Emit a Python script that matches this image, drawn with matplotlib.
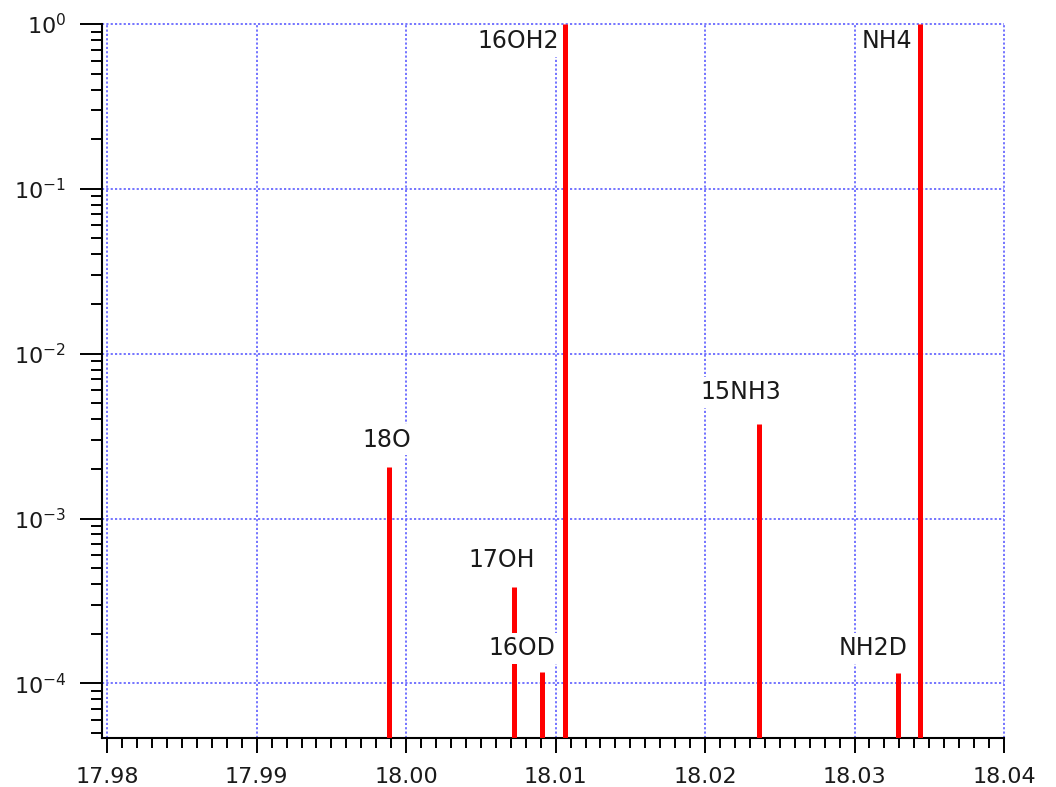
import matplotlib
matplotlib.use("Agg")
import matplotlib.pyplot as plt
from matplotlib.ticker import MultipleLocator, FormatStrFormatter, LogLocator, NullFormatter

plt.rcParams['font.family'] = ['DejaVu Sans']

# Data
species = ["18O", "17OH", "16OD", "16OH2", "15NH3", "NH2D", "NH4"]
masses = [17.99882, 18.00724, 18.00909, 18.01060, 18.02360, 18.03293, 18.03438]
abund = [2.06e-3, 3.83e-4, 1.17e-4, 1.0, 3.73e-3, 1.15e-4, 1.0]
x_ticks = [17.98, 17.99, 18.00, 18.01, 18.02, 18.03, 18.04]

# label placement (pixel offsets from line top, alignment)
label_style = {
    "18O":   (-2, 27, "center"),
    "17OH":  (-13, 27, "center"),
    "16OD":  (-20, 24, "center"),
    "16OH2": (-6, -17, "right"),
    "15NH3": (-18, 32, "center"),
    "NH2D":  (-25, 25, "center"),
    "NH4":   (-8, -17, "right"),
}

fig = plt.figure(figsize=(10.56, 7.87), dpi=100)
ax = fig.add_axes([102/1056, 1-738/787, (1004-102)/1056, (738-24)/787])

ymin = 4.66e-5
ax.set_yscale('log')
ax.set_ylim(ymin, 1.0)
ax.set_xlim(17.97965, 18.04)

ax.vlines(masses, ymin, abund, colors='#ff0000', linewidth=3.6, zorder=3)

for name, m, a in zip(species, masses, abund):
    dx, dy, ha = label_style[name]
    ax.annotate(name, xy=(m, a), xytext=(dx, dy), textcoords='offset pixels',
                ha=ha, va='center', fontsize=17, color='#1a1a1a', zorder=5,
                annotation_clip=False,
                bbox=dict(boxstyle='square,pad=0.15', fc='white', ec='none'))

ax.set_xticks(x_ticks)
ax.xaxis.set_major_formatter(FormatStrFormatter('%.2f'))
ax.xaxis.set_minor_locator(MultipleLocator(0.001))
ax.yaxis.set_major_locator(LogLocator(base=10, numticks=10))
ax.yaxis.set_minor_locator(LogLocator(base=10, subs=range(2, 10), numticks=20))
ax.yaxis.set_minor_formatter(NullFormatter())

ax.tick_params(axis='both', which='both', direction='out', width=1.4, colors='black',
               labelsize=16, labelcolor='#1a1a1a')
ax.tick_params(axis='y', which='major', length=15.8, pad=10)
ax.tick_params(axis='y', which='minor', length=7.9)
ax.tick_params(axis='x', which='major', length=10.8, pad=10)
ax.tick_params(axis='x', which='minor', length=7)

for s in ['top', 'right']:
    ax.spines[s].set_visible(False)
for s in ['left', 'bottom']:
    ax.spines[s].set_linewidth(1.5)
    ax.spines[s].set_color('black')

ax.grid(True, which='major', color='#5c5cff', linestyle=(0, (1.3, 1.3)), linewidth=1.2, zorder=0)
ax.set_axisbelow(True)
for gl in ax.get_xgridlines() + ax.get_ygridlines():
    gl.set_clip_on(False)

fig.savefig('out.png', dpi=100, facecolor='white')
